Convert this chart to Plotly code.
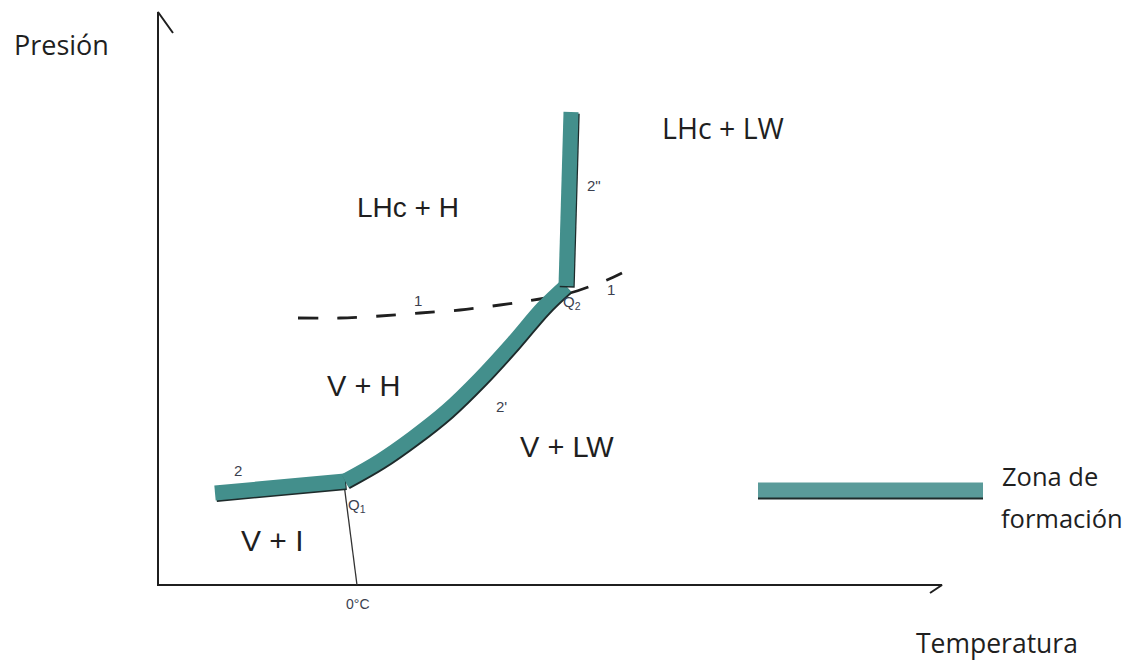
import plotly.graph_objects as go

# Hydrate phase diagram (schematic): temperature vs pressure, arbitrary units
# Boundary 2: ice + vapour + hydrate (below 0 °C)
t_curve_2 = [57, 187]
p_curve_2 = [92, 104]

# Boundary 2': liquid water + vapour + hydrate (Q1 -> Q2)
t_curve_2p = [187, 222, 255, 289, 322, 355, 385, 408]
p_curve_2p = [104, 124, 147, 174, 206, 242, 277, 299]

# Boundary 2'': liquid water + liquid hydrocarbon + hydrate (above Q2)
t_curve_2pp = [408, 413]
p_curve_2pp = [299, 473]

# Curve 1: hydrocarbon vapour pressure
t_curve_1 = [140, 182, 222, 262, 302, 342, 382, 412, 449, 464]
p_curve_1 = [267, 267, 269, 272, 275, 280, 286, 292, 305, 312]

# 0 °C line from Q1 down to the temperature axis
t_zero = [186, 199]
p_zero = [101, 0]

# Legend swatch extent
t_legend = [600, 825]
p_legend = [95, 95]

TEAL = "#438f8c"
EDGE = "#1e2b2b"
INK = "#1f1f1f"
SMALL = "#3b3f4f"
BAND_W = 15

fig = go.Figure()


def band(t, p, color=TEAL, shape="linear"):
    # dark edge slightly offset, then the teal band on top
    fig.add_trace(go.Scatter(x=[v + 1.2 for v in t], y=[v - 1.5 for v in p], mode="lines",
                             line=dict(color=EDGE, width=BAND_W, shape=shape, smoothing=1.0),
                             hoverinfo="skip", showlegend=False))
    fig.add_trace(go.Scatter(x=t, y=p, mode="lines",
                             line=dict(color=color, width=BAND_W, shape=shape, smoothing=1.0),
                             hoverinfo="skip", showlegend=False))


# axes drawn as lines with open hooks at their ends
fig.add_trace(go.Scatter(x=[15, 0, 0, 784, 772], y=[552, 573, 0, 0, -8], mode="lines",
                         line=dict(color=INK, width=2), hoverinfo="skip", showlegend=False))

# 0 °C line
fig.add_trace(go.Scatter(x=t_zero, y=p_zero, mode="lines",
                         line=dict(color="#333333", width=1.3), hoverinfo="skip", showlegend=False))

# dashed curve 1
fig.add_trace(go.Scatter(x=t_curve_1, y=p_curve_1, mode="lines",
                         line=dict(color=INK, width=2.8, dash="20px,19px", shape="spline", smoothing=0.8),
                         hoverinfo="skip", showlegend=False))

band(t_curve_2, p_curve_2)
band(t_curve_2p, p_curve_2p, shape="spline")
band(t_curve_2pp, p_curve_2pp)

# formation-zone swatch
fig.add_trace(go.Scatter(x=t_legend, y=[v - 2 for v in p_legend], mode="lines",
                         line=dict(color=EDGE, width=BAND_W), hoverinfo="skip", showlegend=False))
fig.add_trace(go.Scatter(x=t_legend, y=p_legend, mode="lines",
                         line=dict(color="#5a9b9a", width=BAND_W), hoverinfo="skip", showlegend=False))

annotations = []


def label(text, t, p, size, family, color=INK):
    annotations.append(dict(x=t, y=p, text=text, showarrow=False, xanchor="center", yanchor="middle",
                            font=dict(size=size, family=family, color=color)))


SANS = "Liberation Sans, Arial, sans-serif"
CAL = "Open Sans, sans-serif"

# region labels
label("LHc + LW", 565, 457, 28.5, CAL)
label("LHc + H", 250, 378, 28, SANS)
label("V + H", 205, 199, 29, SANS)
label("V + LW", 409, 138, 29, SANS)
label("V + I", 114, 45, 30, SANS)

# axis titles and legend text
label("Presión", -97, 541, 27, CAL)
label("Temperatura", 839, -58, 26.5, CAL)
label("Zona de", 892, 109, 25.5, CAL)
label("formación", 904, 67, 25.5, CAL)

# curve and point labels
label("2", 80, 115, 15, SANS, SMALL)
label("Q<sub>1</sub>", 199, 80, 15, SANS, SMALL)
label("0°C", 200, -19, 14, SANS, SMALL)
label("2'", 343, 179, 15, SANS, SMALL)
label("2\"", 436, 400, 15, SANS, SMALL)
label("Q<sub>2</sub>", 414, 283, 15, SANS, SMALL)
label("1", 260, 285, 15, SANS, SMALL)
label("1", 453, 296, 15, SANS, SMALL)

fig.update_layout(
    width=1130, height=660,
    margin=dict(l=0, r=0, t=0, b=0),
    paper_bgcolor="white", plot_bgcolor="white",
    xaxis=dict(range=[-158, 972], visible=False, fixedrange=True),
    yaxis=dict(range=[-75, 585], visible=False, fixedrange=True),
    annotations=annotations,
    showlegend=False,
)

fig.write_html("out.html", config={"displayModeBar": False})
